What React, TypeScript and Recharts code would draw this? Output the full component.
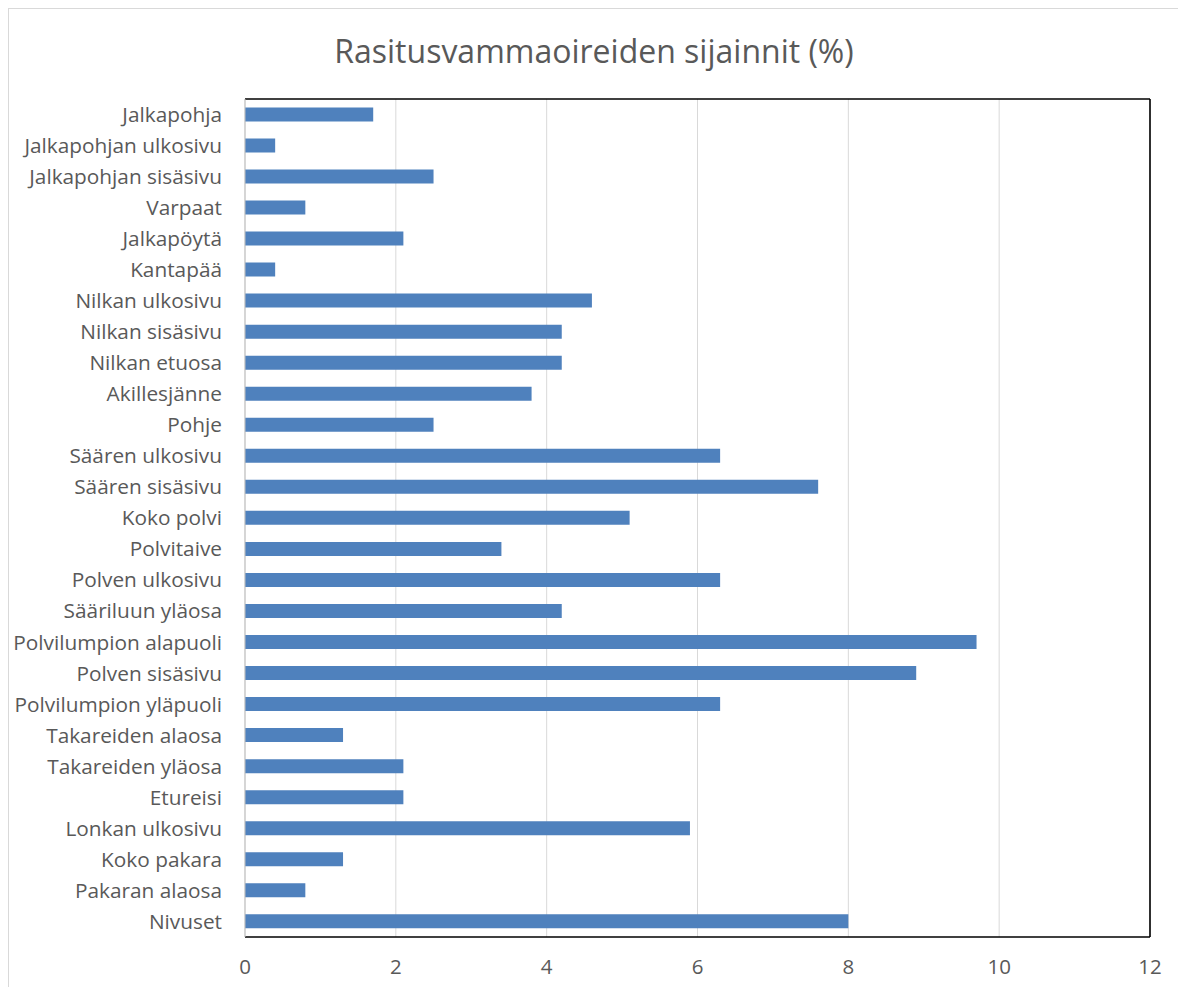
import { BarChart, Bar, XAxis, YAxis, CartesianGrid, ReferenceLine } from 'recharts'

const categories = [
  'Jalkapohja',
  'Jalkapohjan ulkosivu',
  'Jalkapohjan sisäsivu',
  'Varpaat',
  'Jalkapöytä',
  'Kantapää',
  'Nilkan ulkosivu',
  'Nilkan sisäsivu',
  'Nilkan etuosa',
  'Akillesjänne',
  'Pohje',
  'Säären ulkosivu',
  'Säären sisäsivu',
  'Koko polvi',
  'Polvitaive',
  'Polven ulkosivu',
  'Sääriluun yläosa',
  'Polvilumpion alapuoli',
  'Polven sisäsivu',
  'Polvilumpion yläpuoli',
  'Takareiden alaosa',
  'Takareiden yläosa',
  'Etureisi',
  'Lonkan ulkosivu',
  'Koko pakara',
  'Pakaran alaosa',
  'Nivuset',
]

const osuus = [
  1.7, 0.4, 2.5, 0.8, 2.1, 0.4, 4.6, 4.2, 4.2, 3.8, 2.5, 6.3, 7.6, 5.1, 3.4, 6.3, 4.2, 9.7,
  8.9, 6.3, 1.3, 2.1, 2.1, 5.9, 1.3, 0.8, 8.0,
]

const xTicks = [0, 2, 4, 6, 8, 10, 12]

const title = 'Rasitusvammaoireiden sijainnit (%)'

const data = categories.map((name, i) => ({ name, value: osuus[i] }))

const font = '"Open Sans", sans-serif'
const textColor = '#595959'

export default function App() {
  return (
    <div
      style={{
        position: 'relative',
        width: 1170,
        height: 1000,
        border: '1px solid #d9d9d9',
        background: '#fff',
        fontFamily: font,
      }}
    >
      <div
        style={{
          position: 'absolute',
          top: 21,
          left: 0,
          width: '100%',
          textAlign: 'center',
          fontSize: 32,
          lineHeight: '42px',
          color: textColor,
        }}
      >
        {title}
      </div>
      <BarChart
        width={1170}
        height={1000}
        data={data}
        layout="vertical"
        margin={{ top: 89, right: 29, bottom: 32, left: 0 }}
        barCategoryGap="27%"
      >
        <CartesianGrid horizontal={false} stroke="#d9d9d9" xAxisId="b" yAxisId="l" />
        <XAxis
          xAxisId="b"
          type="number"
          domain={[0, 12]}
          ticks={xTicks}
          axisLine={{ stroke: '#000', strokeWidth: 1.6 }}
          tickLine={false}
          tickSize={0}
          tickMargin={22}
          height={40}
          tick={{ fill: textColor, fontSize: 20.5, fontFamily: font }}
        />
        <XAxis
          xAxisId="t"
          orientation="top"
          type="number"
          domain={[0, 12]}
          ticks={xTicks}
          axisLine={{ stroke: '#000', strokeWidth: 1.6 }}
          tick={false}
          tickLine={false}
          height={1}
        />
        <YAxis
          yAxisId="l"
          type="category"
          dataKey="name"
          width={236}
          axisLine={{ stroke: '#bfbfbf' }}
          tickLine={false}
          tickSize={0}
          tickMargin={23}
          interval={0}
          tick={{ fill: textColor, fontSize: 20.8, fontFamily: font }}
        />
        <ReferenceLine
          xAxisId="b"
          yAxisId="l"
          x={12}
          stroke="#000"
          strokeWidth={1.6}
        />
        <Bar
          xAxisId="b"
          yAxisId="l"
          dataKey="value"
          fill="#4f81bd"
          isAnimationActive={false}
        />
      </BarChart>
    </div>
  )
}
